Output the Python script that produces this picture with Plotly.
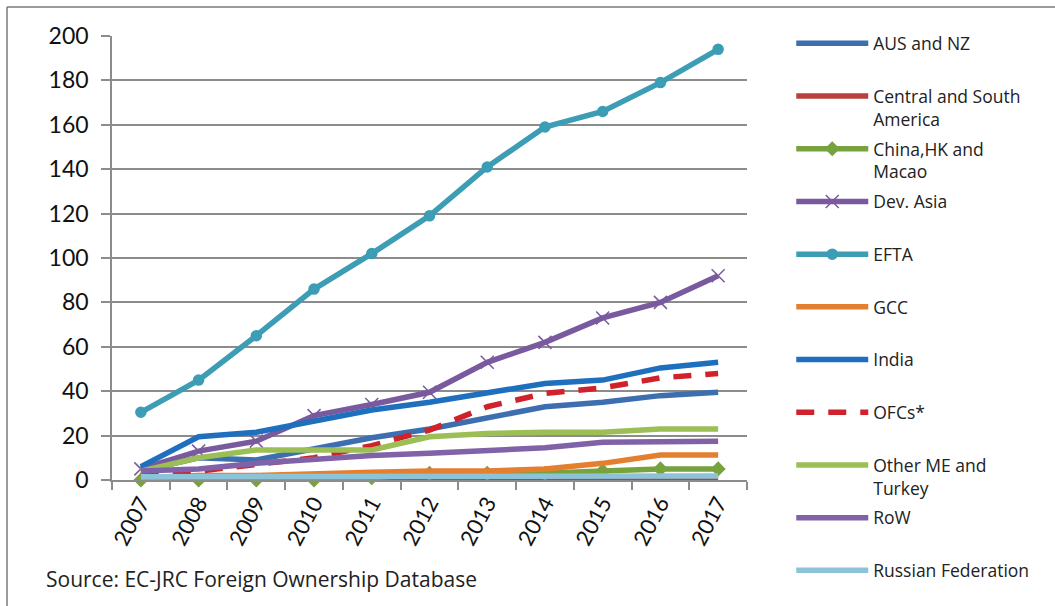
import plotly.graph_objects as go

years = ["2007", "2008", "2009", "2010", "2011", "2012", "2013", "2014", "2015", "2016", "2017"]

aus_nz = [4, 10, 9, 14, 19, 23, 28, 33, 35, 38, 39.5]
central_south_america = [1, 1, 1, 1, 1, 1, 1, 1, 1, 1, 1]
china_hk_macao = [0, 0, 0, 0, 1, 3, 3, 3, 4, 5, 5]
dev_asia = [5, 13, 17.5, 29, 34, 39.5, 53, 62, 73, 80, 92]
efta = [30.5, 45, 65, 86, 102, 119, 141, 159, 166, 179, 194]
gcc = [1, 2, 2, 3, 3.5, 4, 4, 5, 7.5, 11.3, 11.3]
india = [6, 19.5, 21.5, 26.5, 31.5, 35, 39.5, 43.5, 45, 50.5, 53]
ofcs = [2, 4, 7, 10, 15.5, 22.5, 33, 39, 41.5, 46, 48]
other_me_turkey = [4, 10, 13.5, 13.5, 13.5, 19.5, 21, 21.5, 21.5, 23, 23]
row = [4, 5, 7.5, 9.5, 11, 12, 13, 14.5, 17, 17.5, 17.5]
russia = [1.5, 1.5, 1.5, 1.5, 1.5, 1.5, 1.5, 1.5, 1.8, 1.8, 1.8]

series = [
    ("AUS and NZ<br> ", aus_nz, "#3d6fb0", "solid", None),
    ("Central and South<br>America", central_south_america, "#b8403c", "solid", None),
    ("China,HK and<br>Macao", china_hk_macao, "#76a33e", "solid", "diamond"),
    ("Dev. Asia<br> ", dev_asia, "#7a5a9e", "solid", "x-thin"),
    ("EFTA<br> ", efta, "#3c9db5", "solid", "circle"),
    ("GCC<br> ", gcc, "#e57f30", "solid", None),
    ("India<br> ", india, "#1f6fbf", "solid", None),
    ("OFCs*<br> ", ofcs, "#d0222a", "18px,14px", None),
    ("Other ME and<br>Turkey", other_me_turkey, "#9bbf55", "solid", None),
    ("RoW<br> ", row, "#8062a8", "solid", None),
    ("Russian Federation<br> ", russia, "#8cc3d8", "solid", None),
]

FONT = "Lato"
TEXTFONT = "Open Sans"

fig = go.Figure()
for name, vals, color, dash, marker in series:
    kw = {}
    if marker:
        msize = {"diamond": 10, "x-thin": 13, "circle": 10}[marker]
        kw["marker"] = dict(symbol=marker, size=msize, color=color,
                            line=dict(color=color, width=1.5))
        mode = "lines+markers"
    else:
        mode = "lines"
    fig.add_trace(go.Scatter(
        x=years, y=vals, name=name, mode=mode, legendgroup=name,
        line=dict(color=color, width=5.5, dash=dash),
        cliponaxis=False, **kw))

fig.update_layout(
    width=1055, height=606,
    margin=dict(l=112, r=308, t=36, b=126),
    paper_bgcolor="white", plot_bgcolor="white",
    font=dict(family=FONT, color="#222"),
    showlegend=True,
    legend=dict(xref="container", yref="container", x=0.750, y=0.958,
                xanchor="left", yanchor="top", valign="top",
                font=dict(family=TEXTFONT, size=17.5, color="#222"),
                tracegroupgap=4.2, itemwidth=72, maxheight=1.0,
                bgcolor="rgba(0,0,0,0)"),
)
fig.update_xaxes(
    type="category", range=[-0.5, 10.5], tickangle=-62,
    tickfont=dict(family=FONT, size=22, color="#111"),
    showline=True, linecolor="#8c8c8c", linewidth=1.5,
    ticks="outside", tickson="boundaries", ticklen=8, tickcolor="#8c8c8c", tickwidth=1.5,
    showgrid=False,
)
fig.update_yaxes(
    range=[0, 200], dtick=20,
    tickfont=dict(family=FONT, size=23, color="#111"),
    showline=True, linecolor="#8c8c8c", linewidth=1.5,
    ticks="outside", ticklen=9, tickcolor="#8c8c8c", tickwidth=1.5,
    ticklabelstandoff=8,
    showgrid=True, gridcolor="#8c8c8c", gridwidth=1.5,
    zeroline=False,
)

# outer chart frame (left and top)
fig.add_shape(type="line", xref="paper", yref="paper",
              x0=(7 - 112) / 635, x1=(7 - 112) / 635, y0=(480 - 7) / 444, y1=-0.3,
              line=dict(color="#7a7a7a", width=1.5))
fig.add_shape(type="line", xref="paper", yref="paper",
              x0=(7 - 112) / 635, x1=1.6, y0=(480 - 7) / 444, y1=(480 - 7) / 444,
              line=dict(color="#7a7a7a", width=1.5))

fig.add_annotation(text="Source: EC-JRC Foreign Ownership Database",
                   xref="paper", yref="paper", x=(44 - 112) / 635, y=(480 - 579) / 444,
                   xanchor="left", yanchor="middle", showarrow=False,
                   font=dict(family=TEXTFONT, size=21, color="#222"))

fig.write_html("out.html", config={"displayModeBar": False},
               post_script="document.body.style.margin='0';")
